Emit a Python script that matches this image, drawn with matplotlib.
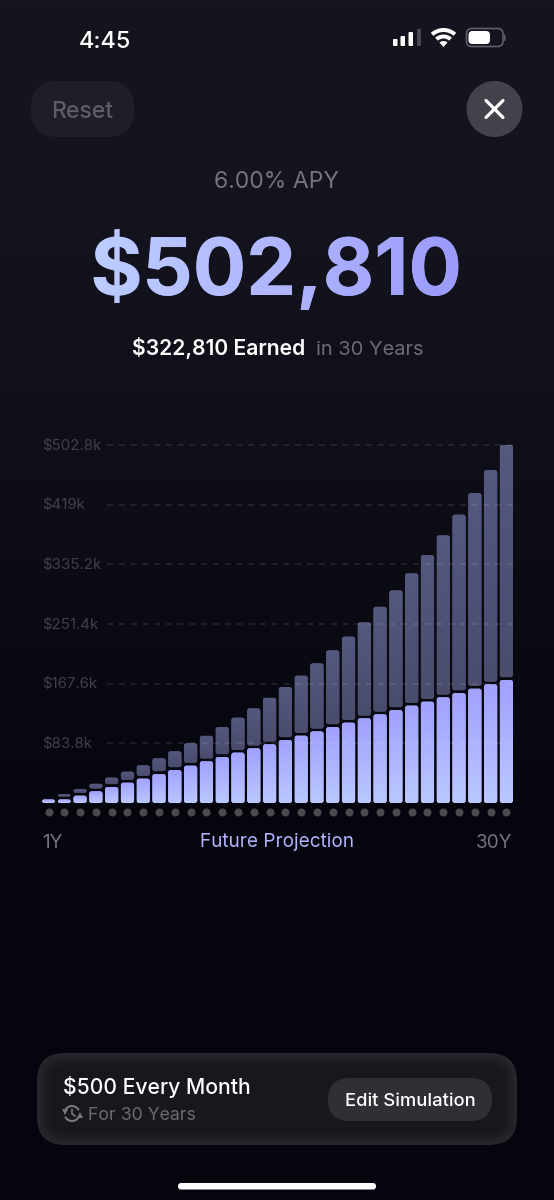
import matplotlib
matplotlib.use("Agg")
import matplotlib.pyplot as plt
import numpy as np
from matplotlib.colors import LinearSegmentedColormap
from matplotlib.font_manager import FontProperties
from matplotlib.patches import Arc, Circle, FancyBboxPatch, PathPatch, Rectangle, Wedge
from matplotlib.textpath import TextPath
from matplotlib.transforms import Affine2D

# values, in $k
years = list(range(1, 31))
principal = [5, 5, 10.3, 16.4, 22.5, 28.5, 34.2, 40.7, 46.3, 52.4,
             58.5, 64.6, 70.7, 76.8, 82.4, 88.5, 94.5, 100.6, 106.7, 112.8,
             118.9, 124.5, 130.6, 136.7, 142.3, 148.4, 154.4, 160.5, 166.6, 172.7]
total = [5, 12.6, 19.7, 27.2, 35.6, 44.0, 52.9, 62.8, 72.6, 83.8,
         94.5, 106.7, 119.8, 132.9, 147.9, 162.9, 178.8, 196.1, 214.4, 233.6,
         253.7, 275.7, 298.6, 322.5, 348.2, 375.9, 404.9, 435.3, 467.6, 502.8]
tick_values = [83.8, 167.6, 251.4, 335.2, 419, 502.8]
tick_labels = ["$83.8k", "$167.6k", "$251.4k", "$335.2k", "$419k", "$502.8k"]

plt.rcParams['font.family'] = ['Inter', 'DejaVu Sans']
W, H = 554, 1200
PX = 0.72  # px to pt at dpi 100

fig = plt.figure(figsize=(W / 100, H / 100), dpi=100)

# --- page in pixel coordinates
ui = fig.add_axes([0, 0, 1, 1])
ui.set_xlim(0, W)
ui.set_ylim(H, 0)
ui.axis('off')

bg = LinearSegmentedColormap.from_list('bg', [(0, '#14151f'), (0.17, '#13141e'), (0.37, '#0e0f18'),
                                              (0.67, '#06060e'), (1, '#05050d')])
ui.imshow(np.linspace(0, 1, 256)[:, None], cmap=bg, extent=(0, W, H, 0), aspect='auto', zorder=0)


def rbox(x0, y0, x1, y1, r, **kw):
    p = FancyBboxPatch((x0, y0), x1 - x0, y1 - y0, boxstyle=f"round,pad=0,rounding_size={r}",
                       linewidth=kw.pop('lw', 0), **kw)
    ui.add_patch(p)
    return p


def txt(x, y, s, size, color, weight='normal', ha='left'):
    return ui.text(x, y, s, fontsize=size * PX, color=color, fontweight=weight, ha=ha, va='baseline', zorder=5)


# --- status bar
txt(79, 48, "4:45", 23.5, 'white', 'medium')
for x0, top, col in [(393, 39, 'white'), (400.5, 36, 'white'), (408.5, 32, 'white')]:
    rbox(x0, top, x0 + 4.5, 46, 1, facecolor=col, zorder=5)
ui.add_patch(Rectangle((416.5, 28.5), 4.5, 17.5, facecolor='#48484e', zorder=5))
for r, w in [(19, 4), (12.5, 4), (6, 6)]:
    ui.add_patch(Wedge((443.5, 47), r, 228, 312, width=w, facecolor='white', zorder=5))
rbox(466.5, 28.5, 503, 46.5, 5.5, facecolor='none', edgecolor='#606066', lw=1.2, zorder=5)
rbox(468.5, 31, 490, 44, 4, facecolor='white', zorder=5)
rbox(504, 34.5, 505.5, 41, 0.7, facecolor='#606066', zorder=5)

# --- top buttons
rbox(31, 81, 134, 137, 27, facecolor='#1f2029', zorder=2)
rbox(33, 83, 132, 135, 26, facecolor='#1d1e27', zorder=2)
txt(82.5, 118, "Reset", 23, '#5c5d65', 'medium', ha='center')
ui.add_patch(Circle((494.5, 109), 28, facecolor='#41424a', zorder=2))
ui.plot([486, 503], [100.5, 117.5], color='white', lw=2.3, solid_capstyle='round', zorder=5)
ui.plot([486, 503], [117.5, 100.5], color='white', lw=2.3, solid_capstyle='round', zorder=5)

# --- headline
txt(277, 188, "6.00% APY", 23, '#74747c', ha='center')
headline = "$502,810"
head_px = 79.3
txt(276, 295, headline, head_px, '#aeb2ff', 'bold', ha='center')
fp = FontProperties(family='Inter', weight='bold', size=head_px * PX)
tp = TextPath((0, 0), headline, prop=fp)
ext = tp.get_extents()
sc = 100 / 72
x_start = 276 - (ext.x0 + ext.x1) / 2 * sc
tp_tr = Affine2D().scale(sc).translate(x_start, H - 295)
head_clip = PathPatch(tp, transform=tp_tr, facecolor='none', edgecolor='none')
grad = LinearSegmentedColormap.from_list('head', ['#bccdff', '#b0b6ff', '#9a9afb'])
im = ui.imshow(np.linspace(0, 1, 256)[None, :], cmap=grad, extent=(93, 461, 310, 225), aspect='auto', zorder=6)
im.set_clip_path(tp, tp_tr)

txt(132, 355, "$322,810 Earned", 21.1, 'white', 'semibold')
txt(316, 355, "in 30 Years", 20, '#6c6c74')

# --- chart, axes placed so 1 year = 15.79 px and 1 $k = 0.712 px
PITCH, KPX = 15.79, 0.712
left, right, top, bottom = 34, 524, 440, 820
base = 803
ax = fig.add_axes([left / W, 1 - bottom / H, (right - left) / W, (bottom - top) / H])
ax.patch.set_alpha(0)
ax.axis('off')
xlim = (1 + (left - 48.5) / PITCH, 1 + (right - 48.5) / PITCH)
ylim = ((base - bottom) / KPX, (base - top) / KPX)
BAR_W = 13.2 / PITCH
GAP = 2.8 / KPX
upper_cm = LinearSegmentedColormap.from_list('upper', ['#55587f', '#4a4c6c'])
lower_cm = LinearSegmentedColormap.from_list('lower', ['#a1a1ff', '#bac8ff'])


def bar(x, y0, y1, cmap):
    r = 2.5 / PITCH
    asp = PITCH / KPX
    p = FancyBboxPatch((x - BAR_W / 2, y0), BAR_W, y1 - y0, boxstyle=f"round,pad=0,rounding_size={r}",
                       mutation_aspect=asp, facecolor=cmap(0.5), linewidth=0, zorder=2)
    ax.add_patch(p)
    g = ax.imshow(np.linspace(0, 1, 64)[:, None], cmap=cmap, aspect='auto', zorder=2.1,
                  extent=(x - BAR_W / 2, x + BAR_W / 2, y0, y1), origin='upper')
    g.set_clip_path(p)


for yr, low, tot in zip(years, principal, total):
    bar(yr, 0, low, lower_cm)
    if tot - low > GAP:
        bar(yr, low + GAP, tot, upper_cm)

ax.hlines(tick_values, 1 + (107 - 48.5) / PITCH, 1 + (513 - 48.5) / PITCH, color='#ffffff', alpha=0.11,
          lw=1.1, linestyles=(0, (4.0, 3.7)), zorder=3)
ax.scatter(years, [-9 / KPX] * len(years), s=33, color='#4b4b4f', linewidths=0, zorder=2, clip_on=False)
for v, lab in zip(tick_values, tick_labels):
    ax.text(1 + (42 - 48.5) / PITCH, v, lab, fontsize=15 * PX, color='#404047', va='center', ha='left')
ax.set_xlim(xlim)
ax.set_ylim(ylim)

txt(42, 848, "1Y", 19, '#74747a')
txt(277, 847, "Future Projection", 19, '#b0b4ff', ha='center')
txt(512, 848, "30Y", 19, '#74747a', ha='right')

# --- bottom panel
for i, col in enumerate(['#26262c', '#232329', '#212127', '#1e1e24', '#1c1c22', '#1a1a20', '#18181e', '#17171d']):
    rbox(37 + i * 2, 1053 + i * 2, 517 - i * 2, 1145 - i * 2, max(28 - i * 2, 4), facecolor=col, zorder=2)
rbox(328, 1078, 492, 1121, 21.5, facecolor='#2f2f35', zorder=3)
txt(63, 1094, "$500 Every Month", 21.2, 'white', 'medium')
txt(88, 1120, "For 30 Years", 17.7, '#6b6b71')
txt(345, 1106, "Edit Simulation", 18.4, 'white', 'medium')
# refresh icon
ic = '#77777d'
ui.add_patch(Arc((72, 1113.5), 15, 15, theta1=205, theta2=335, color=ic, lw=1.5, zorder=5))
ui.add_patch(Arc((72, 1113.5), 15, 15, theta1=25, theta2=155, color=ic, lw=1.5, zorder=5))
ui.plot([64.5], [1112], marker='v', ms=4.5, color=ic, mew=0, zorder=5)
ui.plot([79.5], [1115], marker='^', ms=4.5, color=ic, mew=0, zorder=5)
ui.plot([72, 72, 75], [1109.5, 1114, 1116], color=ic, lw=1.2, zorder=5)
ui.set_xlim(0, W)
ui.set_ylim(H, 0)

# home bar
rbox(178, 1183, 376, 1189.5, 3, facecolor='white', zorder=5)

fig.savefig('out.png', dpi=100, facecolor='#05050c')
